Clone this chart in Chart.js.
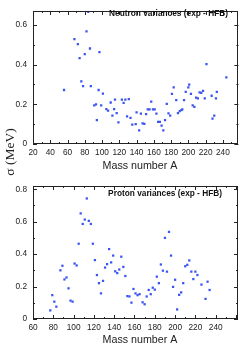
<!DOCTYPE html>
<html>
<head>
<meta charset="utf-8">
<script src="https://cdn.jsdelivr.net/npm/chart.js@4/dist/chart.umd.min.js"></script>
<style>
body { margin: 0; width: 240px; height: 350px; background: #fff; overflow: hidden; position: relative; }
canvas { position: absolute; left: 0; }
#ylab { position: absolute; left: -30px; top: 143px; width: 80px; height: 18px; line-height: 18px;
        text-align: center; font-family: "Liberation Serif", "DejaVu Serif", serif; font-size: 13.5px;
        color: #222; transform: rotate(-90deg); white-space: nowrap; }
</style>
</head>
<body>
<canvas id="neutron" width="240" height="175" style="top:0"></canvas>
<canvas id="proton" width="240" height="175" style="top:175px"></canvas>
<div id="ylab">σ (MeV)</div>
<script>
// neutron panel
const neutronA = [56, 68, 72, 74, 76, 78, 80, 82, 84, 86, 87, 91, 93, 94, 96, 97, 99, 101, 105, 107,
  110, 112, 114, 115, 117, 119, 123, 125, 127, 129, 131, 133, 135, 139, 140, 143, 145, 147, 149, 151,
  153, 155, 157, 159, 161, 163, 165, 167, 169, 171, 173, 175, 177, 179, 181, 183, 186, 188, 190, 192,
  193, 195, 197, 200, 201, 203, 205, 207, 209, 211, 213, 215, 217, 219, 221, 227, 228, 230, 232, 233, 244];
const neutronSigma = [0.272, 0.528, 0.503, 0.433, 0.315, 0.291, 0.453, 0.567, 0.665, 0.481, 0.291, 0.195, 0.200, 0.120, 0.272, 0.463, 0.195, 0.254, 0.176, 0.168,
  0.209, 0.143, 0.176, 0.223, 0.156, 0.109, 0.223, 0.207, 0.223, 0.139, 0.226, 0.131, 0.098, 0.100, 0.159, 0.069, 0.153, 0.104, 0.101, 0.151,
  0.174, 0.174, 0.213, 0.174, 0.174, 0.153, 0.112, 0.112, 0.092, 0.069, 0.120, 0.202, 0.154, 0.143, 0.252, 0.285, 0.221, 0.156, 0.165, 0.171,
  0.174, 0.221, 0.262, 0.285, 0.299, 0.252, 0.195, 0.187, 0.234, 0.230, 0.260, 0.257, 0.268, 0.230, 0.402, 0.243, 0.128, 0.143, 0.230, 0.262, 0.336];

// proton panel
const protonA = [77, 79, 81, 83, 87, 89, 91, 93, 95, 97, 99, 101, 103, 105, 107, 109, 111, 113, 115, 117,
  119, 121, 123, 125, 127, 129, 131, 133, 135, 137, 139, 141, 143, 145, 147, 149, 151, 153, 155, 157,
  159, 161, 163, 165, 168, 170, 172, 174, 176, 178, 180, 182, 184, 186, 188, 190, 192, 194, 196, 198,
  200, 202, 204, 206, 208, 210, 212, 214, 216, 218, 220, 222, 226, 230, 232, 234];
const protonSigma = [0.053, 0.147, 0.107, 0.076, 0.300, 0.328, 0.244, 0.256, 0.189, 0.113, 0.107, 0.342, 0.330, 0.464, 0.651, 0.586, 0.613, 0.743, 0.605, 0.586,
  0.464, 0.363, 0.271, 0.221, 0.158, 0.235, 0.317, 0.338, 0.431, 0.349, 0.391, 0.294, 0.283, 0.305, 0.384, 0.321, 0.265, 0.141, 0.139, 0.101,
  0.185, 0.158, 0.147, 0.153, 0.103, 0.091, 0.139, 0.179, 0.153, 0.193, 0.181, 0.261, 0.221, 0.336, 0.298, 0.500, 0.292, 0.537, 0.391, 0.198,
  0.242, 0.059, 0.149, 0.164, 0.221, 0.325, 0.334, 0.361, 0.292, 0.246, 0.292, 0.271, 0.212, 0.124, 0.230, 0.179];

const xTitle = "Mass number A";
const lastLabel = 240;   // no label past this on the mass axis
const sans = '"Liberation Sans", Arial, sans-serif';

// frame, inward ticks on all four sides, panel label and x title
const decor = {
  id: 'decor',
  afterDatasetsDraw(chart, args, opts) {
    const { ctx, chartArea: a, scales: { x, y } } = chart;
    ctx.save();
    ctx.strokeStyle = '#222';
    ctx.lineWidth = 1;
    ctx.strokeRect(Math.round(a.left) + 0.5, Math.round(a.top) + 0.5,
      Math.round(a.right - a.left) - 1, Math.round(a.bottom - a.top) - 1);
    ctx.beginPath();
    const xMaj = x.ticks.map(t => t.value);
    const xStep = xMaj[1] - xMaj[0];
    xMaj.forEach(v => {
      [[v, 4], [v + xStep / 2, 2]].forEach(([val, len]) => {
        if (val > x.max) return;
        const px = Math.round(x.getPixelForValue(val)) + 0.5;
        ctx.moveTo(px, a.bottom); ctx.lineTo(px, a.bottom - len);
        ctx.moveTo(px, a.top); ctx.lineTo(px, a.top + len);
      });
    });
    const yMaj = y.ticks.map(t => t.value);
    const yStep = yMaj[1] - yMaj[0];
    yMaj.forEach(v => {
      [[v, 4], [v + yStep / 2, 2]].forEach(([val, len]) => {
        if (val > y.max) return;
        const py = Math.round(y.getPixelForValue(val)) + 0.5;
        ctx.moveTo(a.left, py); ctx.lineTo(a.left + len, py);
        ctx.moveTo(a.right, py); ctx.lineTo(a.right - len, py);
      });
    });
    ctx.stroke();

    ctx.fillStyle = '#111';
    ctx.font = 'bold 8.3px ' + sans;
    ctx.textAlign = 'right';
    ctx.textBaseline = 'middle';
    ctx.fillText(opts.label, opts.labelRight, opts.labelY);

    ctx.font = '10.7px ' + sans;
    ctx.textAlign = 'center';
    ctx.fillStyle = '#222';
    ctx.fillText(xTitle, 140, opts.titleY);
    ctx.restore();
  }
};

function makePanel(id, xs, ys, xMin, xMax, yMax, padTop, label, labelRight, labelY) {
  return new Chart(document.getElementById(id), {
    type: 'scatter',
    data: {
      datasets: [{
        data: xs.map((a, i) => ({ x: a, y: ys[i] })),
        backgroundColor: '#3a55f0',
        borderWidth: 0,
        pointStyle: 'rect',
        pointRadius: 1.6,
        pointHoverRadius: 1.6
      }]
    },
    options: {
      responsive: false,
      animation: false,
      layout: { padding: { left: 0, right: 1, top: padTop, bottom: 0 } },
      plugins: {
        legend: { display: false },
        tooltip: { enabled: false },
        decor: { label: label, labelRight: labelRight, labelY: labelY, titleY: id === 'neutron' ? 166 : 165 }
      },
      scales: {
        x: {
          type: 'linear', min: xMin, max: xMax,
          grid: { display: false, drawTicks: false },
          border: { display: false },
          ticks: { stepSize: 20, includeBounds: false, padding: 4, color: '#222', font: { family: sans, size: 8.3 },
                   maxRotation: 0, autoSkip: false,
                   callback: v => v > lastLabel ? '' : v },
          afterFit: s => { s.height = 31; }
        },
        y: {
          min: 0, max: yMax,
          grid: { display: false, drawTicks: false },
          border: { display: false },
          ticks: { stepSize: 0.2, includeBounds: false, padding: 6, color: '#222', font: { family: sans, size: 8.3 },
                   callback: v => v === 0 ? '0' : v.toFixed(1) },
          afterFit: s => { s.width = 33; }
        }
      }
    },
    plugins: [decor]
  });
}

makePanel('neutron', neutronA, neutronSigma, 20, 258, 0.67, 0, 'Neutron variances (exp - HFB)', 228, 14);
makePanel('proton', protonA, protonSigma, 60, 262, 0.82, 3, 'Proton variances (exp - HFB)', 222, 19);
</script>
</body>
</html>
